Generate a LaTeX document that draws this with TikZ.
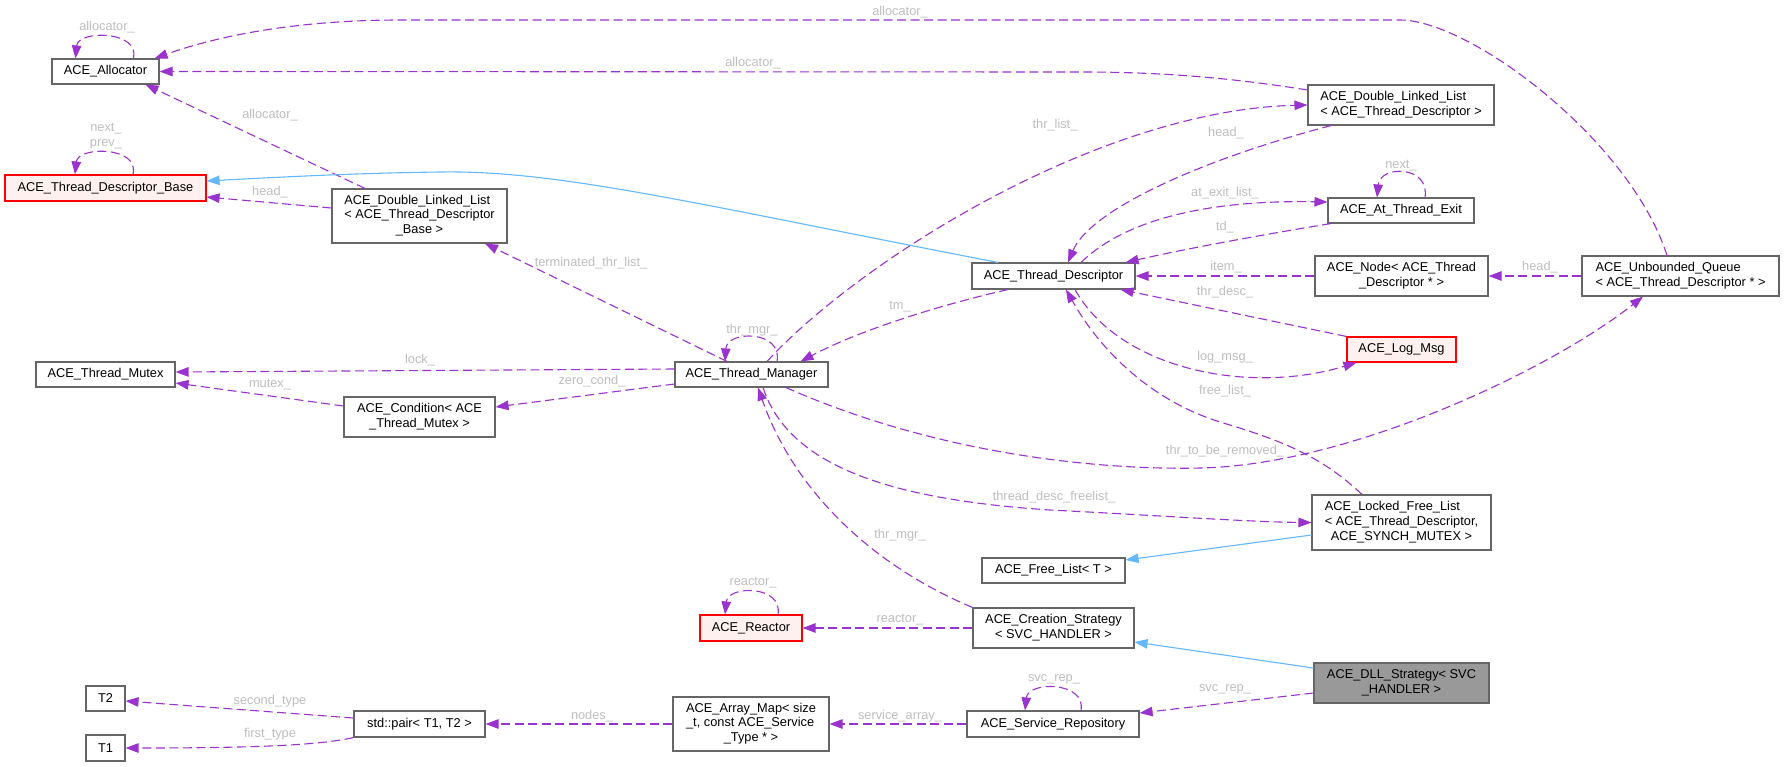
\documentclass[tikz,border=0pt]{standalone}
\usepackage{fontspec}
\setmainfont{Liberation Sans}
\usetikzlibrary{arrows.meta}
\definecolor{orch}{HTML}{9A32CD}
\definecolor{sblue}{HTML}{63B8FF}
\definecolor{bgray}{HTML}{666666}
\definecolor{lblg}{HTML}{BEBEBE}
\definecolor{pinkf}{HTML}{FFF0F0}
\definecolor{dgray}{HTML}{999999}
\newcommand{\ml}[2]{\begin{tabular}{@{}l@{}}#1\\\multicolumn{1}{@{}c@{}}{#2}\end{tabular}}
\begin{document}
\begin{tikzpicture}[x=1pt,y=-1pt,
  box/.style={draw=bgray, fill=white, line width=1.1pt, inner sep=0pt, text=black,
    font=\fontsize{12.8}{14.7}\selectfont},
  rbox/.style={box, draw=red, fill=pinkf},
  gbox/.style={box, fill=dgray},
  mem/.style={draw=orch, line width=1.1pt, dash pattern=on 9pt off 4.5pt,
    -{Triangle[length=13pt,width=9.5pt]}},
  inh/.style={draw=sblue, line width=1.1pt, -{Triangle[length=13pt,width=9.5pt]}},
  lbl/.style={text=lblg, inner sep=0pt, font=\fontsize{12.8}{14.7}\selectfont, align=center}]
\fill[white] (0,0) rectangle (1784,766);
\useasboundingbox (0,0) rectangle (1784,766);

% nodes
\node[box, minimum width=107pt, minimum height=25pt] (alloc) at (105.5,71.5) {ACE\_Allocator};
\node[rbox, minimum width=201pt, minimum height=26pt] (tdb) at (105.5,188) {ACE\_Thread\_Descriptor\_Base};
\node[box, minimum width=175pt, minimum height=54pt] (dllb) at (419.5,216) {\ml{ACE\_Double\_Linked\_List\\< ACE\_Thread\_Descriptor}{\_Base >}};
\node[box, minimum width=139pt, minimum height=25pt] (mutex) at (105.5,374.5) {ACE\_Thread\_Mutex};
\node[box, minimum width=151pt, minimum height=40pt] (cond) at (419.5,417) {\ml{ACE\_Condition< ACE}{\_Thread\_Mutex >}};
\node[box, minimum width=39pt, minimum height=25pt] (t2) at (105.5,698.5) {T2};
\node[box, minimum width=39pt, minimum height=26pt] (t1) at (105.5,748) {T1};
\node[box, minimum width=131pt, minimum height=26pt] (pair) at (419.5,724) {std::pair< T1, T2 >};
\node[box, minimum width=153pt, minimum height=25pt] (tm) at (751.5,374.5) {ACE\_Thread\_Manager};
\node[rbox, minimum width=102pt, minimum height=26pt] (reactor) at (751,628) {ACE\_Reactor};
\node[box, minimum width=156pt, minimum height=54pt] (amap) at (751,724) {\ml{ACE\_Array\_Map< size\\\_t, const ACE\_Service}{\_Type * >}};
\node[box, minimum width=163pt, minimum height=26pt] (td) at (1053.5,276) {ACE\_Thread\_Descriptor};
\node[box, minimum width=143pt, minimum height=25pt] (fl) at (1053.5,570.5) {ACE\_Free\_List< T >};
\node[box, minimum width=161pt, minimum height=40pt] (cs) at (1053.5,628) {\ml{ACE\_Creation\_Strategy}{< SVC\_HANDLER >}};
\node[box, minimum width=172pt, minimum height=26pt] (sr) at (1053,724) {ACE\_Service\_Repository};
\node[box, minimum width=186pt, minimum height=40pt] (dlltd) at (1401,105) {\ml{ACE\_Double\_Linked\_List}{< ACE\_Thread\_Descriptor >}};
\node[box, minimum width=146pt, minimum height=25pt] (ate) at (1401,210.5) {ACE\_At\_Thread\_Exit};
\node[box, minimum width=173pt, minimum height=40pt] (anode) at (1401.5,276) {\ml{ACE\_Node< ACE\_Thread}{\_Descriptor * >}};
\node[rbox, minimum width=109pt, minimum height=25pt] (logmsg) at (1401.5,349.5) {ACE\_Log\_Msg};
\node[box, minimum width=179pt, minimum height=55pt] (lfl) at (1401.5,522.5) {\ml{ACE\_Locked\_Free\_List\\< ACE\_Thread\_Descriptor,}{ACE\_SYNCH\_MUTEX >}};
\node[gbox, minimum width=175pt, minimum height=40pt] (dlls) at (1401.5,683) {\ml{ACE\_DLL\_Strategy< SVC}{\_HANDLER >}};
\node[box, minimum width=197pt, minimum height=40pt] (uq) at (1680.5,276) {\ml{ACE\_Unbounded\_Queue}{< ACE\_Thread\_Descriptor * >}};

% edges
\draw[mem] ([xshift=28pt]alloc.north) .. controls (140,30) and (78,30) .. ([xshift=-30pt]alloc.north);
\draw[mem] ([xshift=-13.5pt]uq.north) .. controls (1630,140) and (1470,20) .. (1400,20) -- (400,20) .. controls (300,20) and (220,35) .. ([xshift=-5pt]alloc.north east);
\draw[mem] ([yshift=15pt]dlltd.west) .. controls (1220,76) and (1150,72) .. (1080,72) -- (alloc.east);
\draw[mem] ([xshift=-54.5pt]dllb.north) -- ([xshift=40pt]alloc.south);
\draw[mem] ([xshift=27.5pt]tdb.north) .. controls (140,146) and (78,146) .. ([xshift=-30.5pt]tdb.north);
\draw[inh] ([xshift=-55.5pt]td.north) .. controls (700,205) and (560,170) .. (440,172) .. controls (360,173) and (280,177) .. ([yshift=7pt]tdb.east);
\draw[mem] ([yshift=8pt]dllb.west) -- ([yshift=-9pt]tdb.east);
\draw[mem] ([xshift=-24.5pt]tm.north) -- ([xshift=65.5pt]dllb.south);
\draw[mem] ([xshift=25.5pt]tm.north) .. controls (783,330) and (727,330) .. ([xshift=-26.5pt]tm.north);
\draw[mem] ([xshift=15.5pt]tm.north) .. controls (860,260) and (1100,110) .. (dlltd.west);
\draw[mem] ([xshift=-70pt]dlltd.south) .. controls (1200,160) and (1090,210) .. ([xshift=14.5pt]td.north);
\draw[mem] ([xshift=27.5pt]td.north) .. controls (1130,215) and (1220,200) .. ([yshift=8.5pt]ate.west);
\draw[mem] ([xshift=24pt]ate.north) .. controls (1430,165) and (1380,165) .. ([xshift=-24pt]ate.north);
\draw[mem] ([xshift=-70pt]ate.south) .. controls (1260,235) and (1180,250) .. ([xshift=-10pt]td.north east);
\draw[mem] (anode.west) -- (td.east);
\draw[mem] (uq.west) -- (anode.east);
\draw[mem] (logmsg.north west) -- ([xshift=-15pt]td.south east);
\draw[mem] ([xshift=21.5pt]td.south) .. controls (1120,370) and (1250,395) .. ([xshift=10pt]logmsg.south west);
\draw[mem] ([xshift=-39.5pt]lfl.north) .. controls (1320,455) and (1280,440) .. (1220,422) .. controls (1150,400) and (1100,350) .. ([xshift=12.5pt]td.south);
\draw[mem] ([xshift=34.5pt]tm.south) .. controls (950,460) and (1120,470) .. (1200,468) .. controls (1350,465) and (1550,370) .. ([xshift=-37.5pt]uq.south);
\draw[mem] ([xshift=11.5pt]tm.south) .. controls (790,470) and (900,500) .. (1050,510) .. controls (1150,515) and (1250,522) .. (lfl.west);
\draw[mem] (cs.north west) .. controls (860,560) and (790,480) .. ([xshift=6.5pt]tm.south);
\draw[inh] ([yshift=-12.5pt]lfl.west) -- ([yshift=10.5pt]fl.east);
\draw[mem] ([xshift=27pt]reactor.north) .. controls (783,585) and (728,585) .. ([xshift=-26pt]reactor.north);
\draw[mem] (cs.west) -- (reactor.east);
\draw[inh] ([yshift=15pt]dlls.west) -- ([yshift=-14pt]cs.east);
\draw[mem] ([xshift=28pt]sr.north) .. controls (1086,681) and (1028,681) .. ([xshift=-28pt]sr.north);
\draw[mem] ([yshift=-10pt]dlls.west) -- ([yshift=11pt]sr.east);
\draw[mem] (sr.west) -- (amap.east);
\draw[mem] (amap.west) -- (pair.east);
\draw[mem] ([yshift=6pt]pair.west) -- ([yshift=-2.5pt]t2.east);
\draw[mem] (pair.south west) .. controls (320,745) and (260,748) .. (t1.east);
\draw[mem] ([yshift=5.5pt]tm.west) -- ([yshift=2.5pt]mutex.east);
\draw[mem] ([yshift=11pt]cond.west) -- ([yshift=-8.5pt]mutex.east);
\draw[mem] ([yshift=-9.5pt]tm.west) -- ([yshift=10pt]cond.east);
\draw[mem] ([xshift=-45.5pt]td.south) .. controls (940,305) and (860,330) .. ([xshift=-28pt]tm.north east);

% labels
\node[lbl] (l1) at (107,27) {allocator\_};
\node[lbl] (l2) at (900,12) {allocator\_};
\node[lbl] (l3) at (753,63) {allocator\_};
\node[lbl] (l4) at (270,115) {allocator\_};
\node[lbl] (l5) at (106,136) {next\_\\prev\_};
\node[lbl] (l6) at (270,192) {head\_};
\node[lbl] (l7) at (591,263) {terminated\_thr\_list\_};
\node[lbl] (l8) at (752,330) {thr\_mgr\_};
\node[lbl] (l9) at (1055,125) {thr\_list\_};
\node[lbl] (l10) at (1226,133) {head\_};
\node[lbl] (l11) at (1225,193) {at\_exit\_list\_};
\node[lbl] (l12) at (1401,166) {next\_};
\node[lbl] (l13) at (1225,227) {td\_};
\node[lbl] (l14) at (1226,267) {item\_};
\node[lbl] (l15) at (1540,267) {head\_};
\node[lbl] (l16) at (1225,292) {thr\_desc\_};
\node[lbl] (l17) at (1225,357) {log\_msg\_};
\node[lbl] (l18) at (1225,391) {free\_list\_};
\node[lbl] (l19) at (1225,451) {thr\_to\_be\_removed\_};
\node[lbl] (l20) at (1054,497) {thread\_desc\_freelist\_};
\node[lbl] (l21) at (900,535) {thr\_mgr\_};
\node[lbl] (l22) at (753,583) {reactor\_};
\node[lbl] (l23) at (900,620) {reactor\_};
\node[lbl] (l24) at (1054,679) {svc\_rep\_};
\node[lbl] (l25) at (1225,689) {svc\_rep\_};
\node[lbl] (l26) at (900,716) {service\_array\_};
\node[lbl] (l27) at (592,716) {nodes\_};
\node[lbl] (l28) at (270,701) {second\_type};
\node[lbl] (l29) at (270,734) {first\_type};
\node[lbl] (l30) at (420,360) {lock\_};
\node[lbl] (l31) at (270,385) {mutex\_};
\node[lbl] (l32) at (592,381) {zero\_cond\_};
\node[lbl] (l33) at (900,307) {tm\_};
\end{tikzpicture}
\end{document}
